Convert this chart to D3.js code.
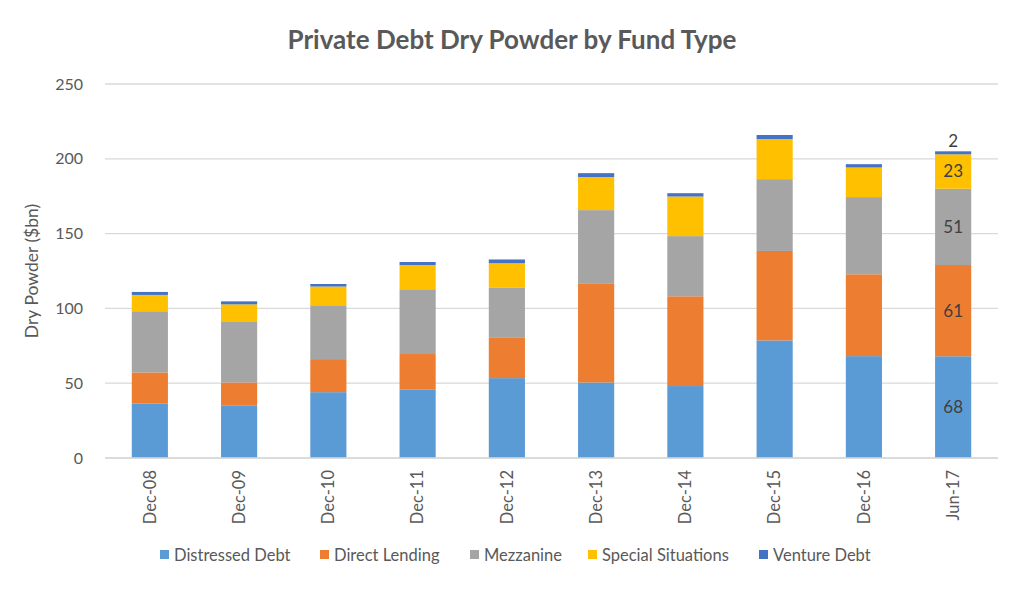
<!DOCTYPE html>
<html>
<head>
<meta charset="utf-8">
<script src="https://cdn.jsdelivr.net/npm/d3@7"></script>
<style>
  body { margin: 0; background: #fff; }
  text { font-family: Lato, "Open Sans", sans-serif; }
</style>
</head>
<body>
<div class="box"></div>
<script>
// données
const periods = ['Dec-08', 'Dec-09', 'Dec-10', 'Dec-11', 'Dec-12', 'Dec-13', 'Dec-14', 'Dec-15', 'Dec-16', 'Jun-17'];
const fundTypes = ['Distressed Debt', 'Direct Lending', 'Mezzanine', 'Special Situations', 'Venture Debt'];
const distressed = [36.3, 34.9, 44.0, 45.9, 53.4, 50.5, 48.1, 78.6, 68.1, 68];
const directLending = [20.9, 15.6, 22.1, 23.6, 27.3, 66.3, 60.0, 59.8, 54.7, 61];
const mezzanine = [40.9, 40.4, 36.0, 43.3, 33.0, 48.9, 40.2, 48.0, 51.6, 51];
const specialSituations = [10.9, 11.8, 12.5, 16.2, 16.5, 22.1, 26.5, 26.8, 19.8, 23];
const ventureDebt = [2.0, 2.0, 1.7, 2.0, 2.5, 2.6, 2.2, 2.7, 2.2, 2];
const yTicks = [0, 50, 100, 150, 200, 250];
const colours = ['#5B9BD5', '#ED7D31', '#A5A5A5', '#FFC000', '#4472C4'];

const dims = {width: 1024, height: 590};
const margin = {top: 84, right: 26, bottom: 132, left: 105};
const innerW = dims.width - margin.left - margin.right;
const innerH = dims.height - margin.top - margin.bottom;

const rows = periods.map((p, i) => ({
    period: p,
    'Distressed Debt': distressed[i],
    'Direct Lending': directLending[i],
    'Mezzanine': mezzanine[i],
    'Special Situations': specialSituations[i],
    'Venture Debt': ventureDebt[i]
}));

const svg = d3.select('.box')
              .append('svg')
              .attr('width', dims.width)
              .attr('height', dims.height);

const graph = svg.append('g')
                 .attr('transform', `translate(${margin.left}, ${margin.top})`);

const x = d3.scaleBand()
            .domain(periods)
            .range([0, innerW])
            .paddingInner(0.595)
            .paddingOuter(0.3);

const y = d3.scaleLinear()
            .domain([0, 250])
            .range([innerH, 0]);

const colour = d3.scaleOrdinal().domain(fundTypes).range(colours);

// grille
graph.append('g')
     .selectAll('line')
     .data(yTicks)
     .join('line')
     .attr('x1', 0)
     .attr('x2', innerW)
     .attr('y1', d => y(d))
     .attr('y2', d => y(d))
     .attr('stroke', '#D9D9D9')
     .attr('stroke-width', 1.3);

// axe y
const yAxis = d3.axisLeft(y).tickValues(yTicks).tickSize(0).tickPadding(22);
graph.append('g')
     .call(yAxis)
     .call(g => g.select('.domain').remove())
     .selectAll('text')
     .attr('fill', '#595959')
     .style('font-size', '16px')
     .style('font-family', 'Lato, "Open Sans", sans-serif');

// barres empilées
const stack = d3.stack().keys(fundTypes);
const series = stack(rows);

graph.append('g')
     .selectAll('g')
     .data(series)
     .join('g')
     .attr('fill', d => colour(d.key))
     .selectAll('rect')
     .data(d => d)
     .join('rect')
     .attr('x', d => x(d.data.period))
     .attr('y', d => y(d[1]))
     .attr('width', x.bandwidth())
     .attr('height', d => y(d[0]) - y(d[1]));

// ligne de base
graph.append('line')
     .attr('x1', 0)
     .attr('x2', innerW)
     .attr('y1', y(0))
     .attr('y2', y(0))
     .attr('stroke', '#D9D9D9')
     .attr('stroke-width', 1.5);

// axe x
const xAxis = d3.axisBottom(x).tickSize(0).tickPadding(0);
graph.append('g')
     .attr('transform', `translate(0, ${innerH})`)
     .call(xAxis)
     .call(g => g.select('.domain').remove())
     .selectAll('text')
     .attr('fill', '#595959')
     .style('font-size', '16.5px')
     .style('font-family', 'Lato, "Open Sans", sans-serif')
     .attr('transform', 'rotate(-90)')
     .attr('text-anchor', 'end')
     .attr('dy', '0.35em')
     .attr('x', -12)
     .attr('y', 0);

// étiquettes de la dernière barre
const last = periods[periods.length - 1];
const labelData = series.map(s => {
    const d = s.find(v => v.data.period === last);
    return {key: s.key, lo: d[0], hi: d[1], val: d[1] - d[0]};
});

graph.append('g')
     .selectAll('text')
     .data(labelData)
     .join('text')
     .attr('x', x(last) + x.bandwidth() / 2)
     .attr('y', d => d.key === 'Venture Debt' ? y(d.hi) - 10 : y((d.lo + d.hi) / 2))
     .attr('dy', '0.35em')
     .attr('text-anchor', 'middle')
     .attr('fill', '#404040')
     .style('font-size', '17px')
     .text(d => Math.round(d.val));

// titre
svg.append('text')
   .attr('x', dims.width / 2)
   .attr('y', 49)
   .attr('text-anchor', 'middle')
   .attr('fill', '#595959')
   .style('font-size', '26px')
   .style('font-weight', 'bold')
   .text('Private Debt Dry Powder by Fund Type');

// titre axe y
svg.append('text')
   .attr('transform', `translate(38, ${margin.top + y(125)}) rotate(-90)`)
   .attr('text-anchor', 'middle')
   .attr('fill', '#595959')
   .style('font-size', '17.5px')
   .text('Dry Powder ($bn)');

// légende
const legendX = [160, 320, 470, 588, 759];
const legend = svg.append('g')
                  .selectAll('g')
                  .data(fundTypes)
                  .join('g')
                  .attr('transform', (d, i) => `translate(${legendX[i]}, 555)`);

legend.append('rect')
      .attr('x', 0)
      .attr('y', -5)
      .attr('width', 9)
      .attr('height', 9)
      .attr('fill', d => colour(d));

legend.append('text')
      .attr('x', 14)
      .attr('y', 0)
      .attr('dy', '0.35em')
      .attr('fill', '#595959')
      .style('font-size', '16.5px')
      .text(d => d);
</script>
</body>
</html>
